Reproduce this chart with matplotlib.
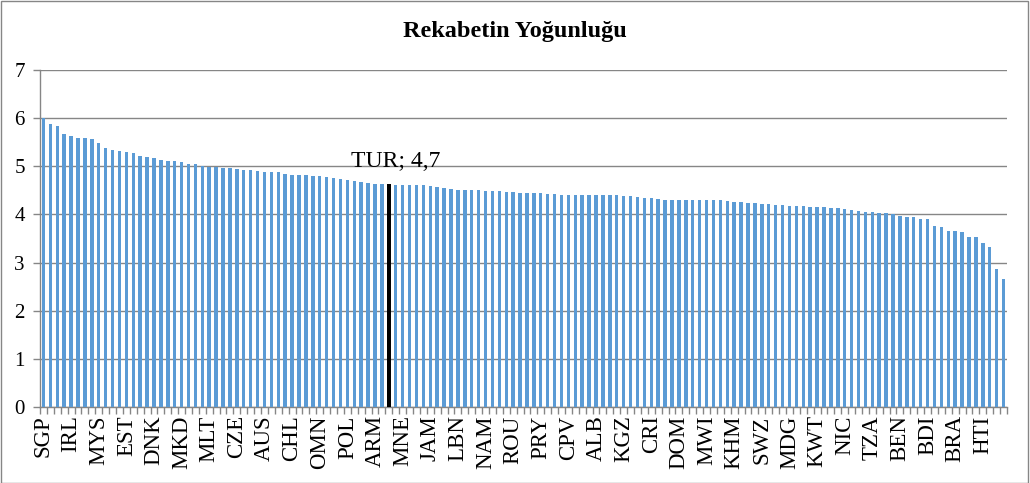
"""Bar chart: intensity of local competition by country (TUR highlighted)."""

import matplotlib

matplotlib.use("Agg")
import matplotlib.pyplot as plt
from matplotlib.patches import Rectangle

TITLE = "Rekabetin Yoğunluğu"
BAR_COLOR = "#5B9BD5"
HIGHLIGHT_COLOR = "black"
GRID_COLOR = "#868686"

# Country codes shown on the axis (every 4th bar)
LABELED_CODES = [
    "SGP", "IRL", "MYS", "EST", "DNK", "MKD", "MLT", "CZE", "AUS", "CHL",
    "OMN", "POL", "ARM", "MNE", "JAM", "LBN", "NAM", "ROU", "PRY", "CPV",
    "ALB", "KGZ", "CRI", "DOM", "MWI", "KHM", "SWZ", "MDG", "KWT", "NIC",
    "TZA", "BEN", "BDI", "BRA", "HTI",
]
LABEL_STEP = 4

# Scores, in ranking order
SCORES = [
    6.00, 5.87, 5.83, 5.68, 5.62, 5.58, 5.58, 5.56, 5.49, 5.37,
    5.33, 5.31, 5.29, 5.27, 5.22, 5.20, 5.18, 5.14, 5.10, 5.10,
    5.08, 5.04, 5.04, 5.01, 4.99, 4.99, 4.96, 4.96, 4.94, 4.92,
    4.92, 4.90, 4.88, 4.88, 4.88, 4.83, 4.81, 4.81, 4.81, 4.79,
    4.79, 4.77, 4.75, 4.73, 4.71, 4.69, 4.68, 4.66, 4.64, 4.64,
    4.64, 4.62, 4.61, 4.61, 4.61, 4.61, 4.59, 4.58, 4.54, 4.52,
    4.50, 4.50, 4.50, 4.50, 4.48, 4.48, 4.48, 4.46, 4.46, 4.44,
    4.44, 4.44, 4.44, 4.43, 4.43, 4.41, 4.41, 4.41, 4.41, 4.41,
    4.41, 4.41, 4.41, 4.41, 4.39, 4.39, 4.37, 4.35, 4.35, 4.33,
    4.31, 4.31, 4.31, 4.31, 4.29, 4.29, 4.29, 4.29, 4.29, 4.27,
    4.25, 4.25, 4.23, 4.23, 4.21, 4.21, 4.19, 4.19, 4.17, 4.17,
    4.17, 4.15, 4.15, 4.15, 4.13, 4.13, 4.11, 4.09, 4.08, 4.06,
    4.06, 4.04, 4.02, 4.00, 3.96, 3.94, 3.94, 3.90, 3.90, 3.77,
    3.73, 3.65, 3.65, 3.63, 3.54, 3.54, 3.40, 3.32, 2.86, 2.66,
]

TUR_INDEX = 50
TUR_LABEL = "TUR; 4,7"
Y_TICKS = [0, 1, 2, 3, 4, 5, 6, 7]

plt.rcParams["font.family"] = ["Liberation Serif", "DejaVu Serif"]

fig = plt.figure(figsize=(10.30, 4.83), dpi=100)
ax = fig.add_axes([40 / 1030, 76 / 483, 967 / 1030, 337 / 483])

positions = list(range(len(SCORES)))
colors = [HIGHLIGHT_COLOR if i == TUR_INDEX else BAR_COLOR for i in positions]
ax.bar(positions, SCORES, width=0.5, color=colors, zorder=3)

ax.set_xlim(-0.5, len(SCORES) - 0.5)
ax.set_ylim(0, 7)
ax.set_yticks(Y_TICKS)
ax.yaxis.grid(True, color=GRID_COLOR, linewidth=1.0, zorder=0)

label_positions = positions[::LABEL_STEP]
ax.set_xticks(label_positions)
ax.set_xticklabels(LABELED_CODES, rotation=90, fontsize=16.5)
ax.tick_params(axis="x", which="major", length=0, pad=6)
ax.set_xticks([p - 0.5 for p in positions] + [len(SCORES) - 0.5], minor=True)
ax.tick_params(axis="x", which="minor", length=5, color=GRID_COLOR, width=1)
ax.tick_params(axis="y", labelsize=15, length=5, color=GRID_COLOR, width=1, pad=6)

for side in ("top", "right"):
    ax.spines[side].set_visible(False)
for side in ("left", "bottom"):
    ax.spines[side].set_color(GRID_COLOR)
    ax.spines[side].set_linewidth(1.0)

ax.text(TUR_INDEX + 1.0, 4.98, TUR_LABEL, ha="center", va="baseline",
        fontsize=17, zorder=4)

fig.text(0.5, 1 - 31 / 483, TITLE, ha="center", va="center", fontsize=17.5,
         fontweight="bold")

fig.patches.append(Rectangle((0.001, 0.001), 0.997, 0.997, transform=fig.transFigure,
                             fill=False, edgecolor=GRID_COLOR, linewidth=1.0))

fig.savefig("out.png", dpi=100)
